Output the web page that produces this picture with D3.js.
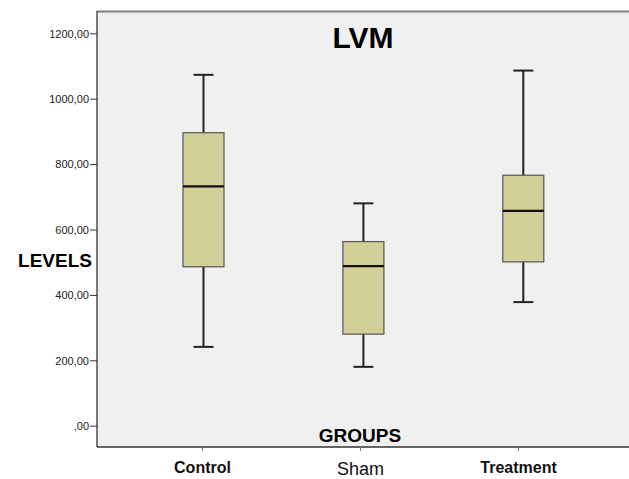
<!DOCTYPE html>
<meta charset="utf-8">
<style>
body { margin: 0; background: #fff; }
text { font-family: Arial, "Liberation Sans", sans-serif; }
.tick text { font-size: 11px; fill: #222; }
</style>
<body>
<script src="https://d3js.org/d3.v7.min.js"></script>
<script>

// data
var groups = ["Control", "Sham", "Treatment"];
var whiskerLow  = [241, 180, 378];
var q1          = [486, 280, 501];
var medians     = [732, 488, 657];
var q3          = [896, 563, 766];
var whiskerHigh = [1073, 680, 1086];
var yTicks = [0, 200, 400, 600, 800, 1000, 1200];

var W = 629, H = 479;
var margin = {top: 11, right: 0, bottom: 32, left: 97};
var width = W - margin.left - margin.right,
    height = H - margin.top - margin.bottom;

var svg = d3.select("body").append("svg")
    .attr("width", W)
    .attr("height", H);

var g = svg.append("g")
    .attr("transform", "translate(" + margin.left + "," + margin.top + ")");

// axis ticks and boxes sit a touch apart in the original
var x = d3.scalePoint().domain(groups).range([105, 421]);
var xBox = d3.scalePoint().domain(groups).range([106.5, 426.3]);
var y = d3.scaleLinear().domain([0, 1200]).range([414.7, 22.3]);

// plot background
g.append("rect")
    .attr("width", width)
    .attr("height", height)
    .attr("fill", "#f0f0f0");

// top border
g.append("line")
    .attr("x1", 0).attr("x2", width)
    .attr("y1", 0.5).attr("y2", 0.5)
    .attr("stroke", "#808080")
    .attr("stroke-width", 2);

var data = groups.map(function(d, i) {
  return {name: d, lo: whiskerLow[i], q1: q1[i], med: medians[i], q3: q3[i], hi: whiskerHigh[i]};
});

var boxW = 41, capW = 20;

var box = g.selectAll(".box")
    .data(data)
  .enter().append("g")
    .attr("class", "box")
    .attr("transform", function(d) { return "translate(" + xBox(d.name) + ",0)"; });

// whiskers
box.append("line")
    .attr("x1", 0).attr("x2", 0)
    .attr("y1", function(d) { return y(d.hi); })
    .attr("y2", function(d) { return y(d.lo); })
    .attr("stroke", "#222")
    .attr("stroke-width", 2);

box.selectAll(".cap")
    .data(function(d) { return [d.hi, d.lo]; })
  .enter().append("line")
    .attr("x1", -capW / 2).attr("x2", capW / 2)
    .attr("y1", function(v) { return y(v); })
    .attr("y2", function(v) { return y(v); })
    .attr("stroke", "#222")
    .attr("stroke-width", 2);

box.append("rect")
    .attr("x", -boxW / 2)
    .attr("width", boxW)
    .attr("y", function(d) { return y(d.q3); })
    .attr("height", function(d) { return y(d.q1) - y(d.q3); })
    .attr("fill", "#d3cf98")
    .attr("stroke", "#555")
    .attr("stroke-width", 1.2);

box.append("line")
    .attr("x1", -boxW / 2).attr("x2", boxW / 2)
    .attr("y1", function(d) { return y(d.med); })
    .attr("y2", function(d) { return y(d.med); })
    .attr("stroke", "#111")
    .attr("stroke-width", 2.2);

// y axis
var yAxis = g.append("g")
    .call(d3.axisLeft(y).tickValues(yTicks).tickSize(7).tickSizeOuter(0)
      .tickFormat(function(d) { return d === 0 ? ",00" : d + ",00"; }));
yAxis.select(".domain").attr("stroke", "#333").attr("stroke-width", 1.3)
    .attr("d", "M0,0V" + height);
yAxis.selectAll(".tick line").attr("stroke", "#333");
yAxis.selectAll(".tick text").attr("x", -8).attr("dy", "0.35em");

// x axis
var xAxis = g.append("g")
    .attr("transform", "translate(0," + height + ")")
    .call(d3.axisBottom(x).tickSize(4).tickSizeOuter(0));
xAxis.select(".domain").attr("stroke", "#333").attr("stroke-width", 1.3)
    .attr("d", "M0,0H" + width);
xAxis.selectAll(".tick line").attr("stroke", "#777");
xAxis.selectAll(".tick text")
    .attr("y", 15)
    .style("font-size", "16px")
    .style("font-weight", "bold")
    .style("fill", "#111");
xAxis.selectAll(".tick text").filter(function(d) { return d === "Sham"; })
    .style("font-weight", "normal")
    .style("font-size", "18px");

// title and axis titles
svg.append("text")
    .attr("x", 363).attr("y", 48)
    .attr("text-anchor", "middle")
    .style("font-size", "30px")
    .style("font-weight", "bold")
    .text("LVM");

svg.append("text")
    .attr("x", 360).attr("y", 442)
    .attr("text-anchor", "middle")
    .style("font-size", "19px")
    .style("font-weight", "bold")
    .text("GROUPS");

svg.append("text")
    .attr("x", 92).attr("y", 267)
    .attr("text-anchor", "end")
    .style("font-size", "19px")
    .style("font-weight", "bold")
    .text("LEVELS");

</script>
</body>
